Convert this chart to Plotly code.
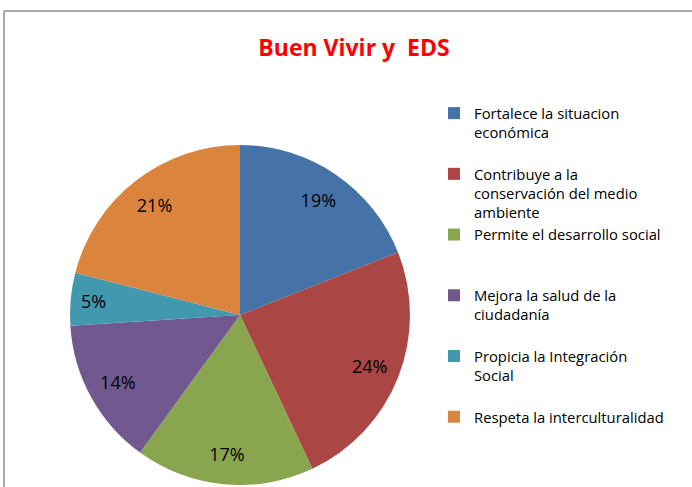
import plotly.graph_objects as go

title_text = "Buen Vivir y \u00a0EDS"
labels = [
    "Fortalece la situacion<br>económica<br> ",
    "Contribuye a la<br>conservación del medio<br>ambiente",
    "Permite el desarrollo social<br> <br> ",
    "Mejora la salud de la<br>ciudadanía<br> ",
    "Propicia la Integración<br>Social<br> ",
    "Respeta la interculturalidad<br> <br> ",
]
values = [19, 24, 17, 14, 5, 21]
colors = ["#4572A7", "#AA4643", "#89A54E", "#71588F", "#4198AF", "#DB843D"]

W, H = 692, 487
dom = dict(x=[70 / W, 410 / W], y=[2 / H, 342 / H])

fig = go.Figure()
fig.add_trace(go.Pie(
    labels=labels,
    values=values,
    sort=False,
    direction="clockwise",
    rotation=0,
    marker=dict(colors=colors, line=dict(width=0)),
    textinfo="none",
    hoverinfo="label+percent",
    domain=dom,
))
# transparent ring carrying the data labels (places them at ~0.8 of the radius)
fig.add_trace(go.Pie(
    labels=[f"{v}%" for v in values],
    values=values,
    sort=False,
    direction="clockwise",
    rotation=0,
    hole=0.64,
    marker=dict(colors=["rgba(0,0,0,0)"] * len(values), line=dict(width=0)),
    texttemplate="%{value}%",
    textposition="inside",
    insidetextorientation="horizontal",
    textfont=dict(family="Open Sans", size=18, color="black"),
    hoverinfo="skip",
    showlegend=False,
    domain=dom,
))

fig.update_layout(
    width=W, height=H,
    margin=dict(l=0, r=0, t=0, b=0),
    paper_bgcolor="white",
    title=dict(text=title_text, x=354 / W, xanchor="center",
               y=1 - 48 / H, yanchor="middle",
               font=dict(family="Open Sans", size=23, color="#FF0000", weight="bold")),
    legend=dict(x=434 / W, xanchor="left", y=1 - 97 / H, yanchor="top",
                valign="top", font=dict(family="Open Sans", size=14.8, color="black"),
                bgcolor="rgba(0,0,0,0)", itemclick=False, itemdoubleclick=False),
    shapes=[
        dict(type="line", xref="paper", yref="paper", x0=4 / W, x1=1.01,
             y0=1 - 11 / H, y1=1 - 11 / H, line=dict(color="#8C8C8C", width=1.5)),
        dict(type="line", xref="paper", yref="paper", x0=4 / W, x1=4 / W,
             y0=1 - 11 / H, y1=-0.01, line=dict(color="#8C8C8C", width=1.5)),
    ],
)

fig.write_html("out.html", config={"displayModeBar": False},
               post_script="document.body.style.margin='0';")
